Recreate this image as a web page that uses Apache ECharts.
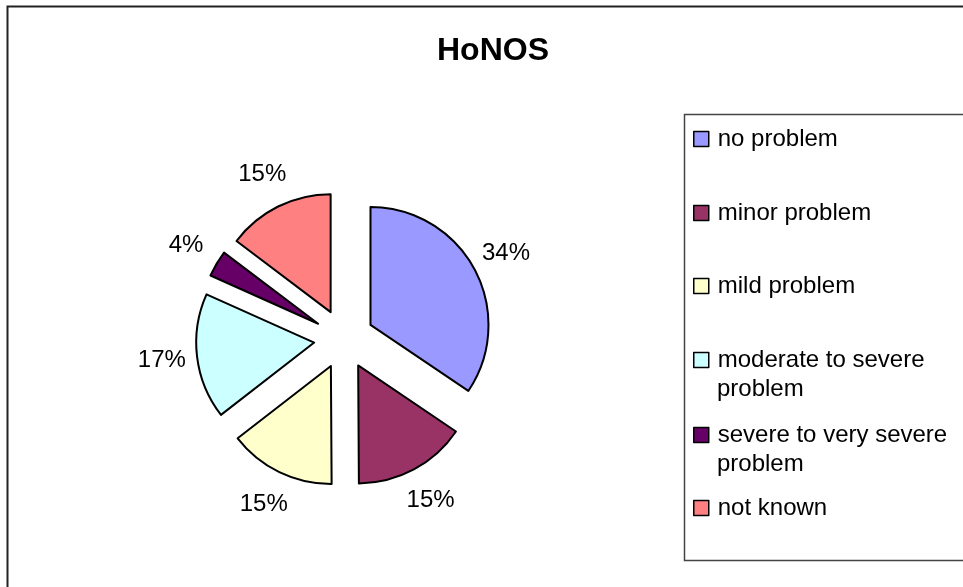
<!DOCTYPE html>
<html>
<head>
<meta charset="utf-8">
<script src="https://cdn.jsdelivr.net/npm/echarts@6/dist/echarts.min.js"></script>
<style>
html,body{margin:0;padding:0;background:#fff;}
#chart{width:963px;height:587px;}
</style>
</head>
<body>
<div id="chart"></div>
<script>
// Data (percent of total)
var categories = ['no problem', 'minor problem', 'mild problem', 'moderate to severe problem', 'severe to very severe problem', 'not known'];
var values = [34.45, 15.45, 14.6, 17.2, 3.6, 14.7];
var colors = ['#9999FF', '#993366', '#FFFFCC', '#CCFFFF', '#660066', '#FF8080'];
// Legend text split into lines as in the picture
var legendLines = [
  ['no problem'],
  ['minor problem'],
  ['mild problem'],
  ['moderate to severe', 'problem'],
  ['severe to very severe', 'problem'],
  ['not known']
];
var titleText = 'HoNOS';

var FONT = '"Liberation Sans", Arial, sans-serif';
var legendTops = [139, 213, 286, 360, 435, 508];

var chart = echarts.init(document.getElementById('chart'), null, {renderer: 'canvas'});

var pieData = categories.map(function (c, i) {
  return {name: c, value: values[i], selected: true, itemStyle: {color: colors[i]}};
});
var labelData = categories.map(function (c, i) {
  return {name: c, value: values[i], selected: true};
});

var legends = categories.map(function (c, i) {
  return {
    data: [{name: c, icon: 'rect'}],
    orient: 'vertical',
    left: 693,
    top: legendTops[i] - 12,
    padding: 0,
    itemWidth: 15,
    itemHeight: 15,
    selectedMode: false,
    itemStyle: {borderColor: '#000', borderWidth: 1.5},
    formatter: function () { return legendLines[i][0]; },
    textStyle: {fontFamily: FONT, fontSize: 24, color: '#000', padding: [0, 0, 0, 4]}
  };
});

var graphics = [
  {type: 'rect', shape: {x: 7.5, y: 6.5, width: 1200, height: 900}, style: {fill: null, stroke: '#222', lineWidth: 2}, z: 0, silent: true},
  {type: 'rect', shape: {x: 684.5, y: 114.5, width: 600, height: 446}, style: {fill: null, stroke: '#444', lineWidth: 1.5}, z: 0, silent: true}
];
legendLines.forEach(function (lines, i) {
  if (lines.length > 1) {
    graphics.push({
      type: 'text', left: 717, top: legendTops[i] + 29 - 12,
      style: {text: lines[1], font: '24px ' + FONT, fill: '#000'},
      silent: true
    });
  }
});

chart.setOption({
  backgroundColor: '#fff',
  animation: false,
  title: {
    text: titleText,
    left: 493,
    top: 35,
    padding: 0,
    textAlign: 'center',
    textStyle: {fontFamily: FONT, fontSize: 32, fontWeight: 'bold', color: '#000'}
  },
  legend: legends,
  graphic: graphics,
  series: [
    {
      type: 'pie',
      name: 'HoNOS',
      center: [344, 339],
      radius: [0, 118],
      startAngle: 90,
      clockwise: true,
      selectedMode: 'multiple',
      selectedOffset: 30,
      percentPrecision: 0,
      silent: true,
      avoidLabelOverlap: false,
      itemStyle: {borderColor: '#000', borderWidth: 2},
      label: {show: false},
      labelLine: {show: false},
      emphasis: {disabled: true, scale: false},
      data: pieData
    },
    {
      type: 'pie',
      name: 'labels',
      center: [344, 339],
      radius: [118, 183],
      startAngle: 90,
      clockwise: true,
      selectedMode: 'multiple',
      selectedOffset: 30,
      percentPrecision: 0,
      silent: true,
      avoidLabelOverlap: false,
      itemStyle: {color: 'rgba(0,0,0,0)', borderWidth: 0},
      label: {
        show: true,
        position: 'inside',
        formatter: '{d}%',
        fontFamily: FONT,
        fontSize: 24,
        color: '#000'
      },
      labelLine: {show: false},
      emphasis: {disabled: true, scale: false},
      data: labelData
    }
  ]
});
</script>
</body>
</html>
